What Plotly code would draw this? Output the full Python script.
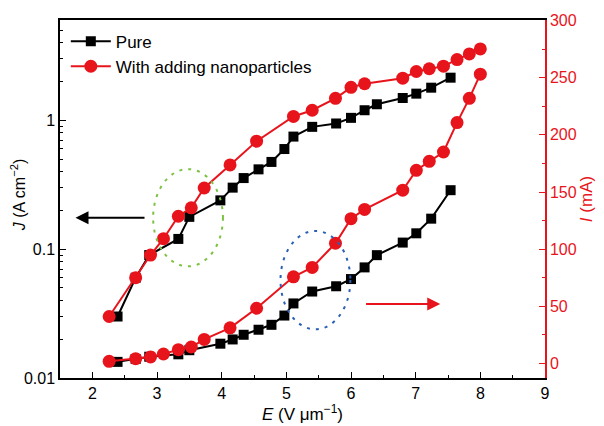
import plotly.graph_objects as go

# ---- data ----
pure_E = [2.39, 2.67, 2.88, 3.33, 3.50, 3.98, 4.17, 4.34, 4.57, 4.77, 4.97,
          5.11, 5.40, 5.77, 6.00, 6.21, 6.40, 6.80, 7.01, 7.24, 7.54]
pure_J = [0.030, 0.060, 0.090, 0.120, 0.178, 0.239, 0.300, 0.356, 0.416, 0.475, 0.598,
          0.747, 0.889, 0.944, 1.044, 1.196, 1.331, 1.489, 1.609, 1.79, 2.14]
pure_I = [1.5, 4.0, 6.0, 8.1, 11.7, 17.4, 21.1, 25.2, 29.6, 33.9, 42.0,
          52.6, 63.0, 67.6, 73.9, 84.1, 94.8, 105.8, 113.9, 126.7, 151.6]

nano_E = [2.26, 2.67, 2.90, 3.10, 3.33, 3.53, 3.73, 4.13, 4.54, 5.11, 5.40,
          5.76, 6.00, 6.21, 6.80, 7.01, 7.21, 7.43, 7.64, 7.83, 8.00]
nano_J = [0.030, 0.060, 0.090, 0.1205, 0.180, 0.209, 0.298, 0.450, 0.688, 1.07, 1.196,
          1.48, 1.80, 1.92, 2.12, 2.39, 2.51, 2.63, 2.96, 3.27, 3.58]
nano_I = [2.0, 4.3, 5.8, 8.4, 12.2, 14.5, 21.1, 31.3, 48.4, 75.9, 84.1,
          105.2, 126.7, 134.8, 151.6, 169.0, 176.8, 185.0, 210.7, 231.9, 253.0]

x_ticks = [2, 3, 4, 5, 6, 7, 8, 9]
j_ticks = [0.01, 0.1, 1]
j_ticktext = ["0.01", "0.1", "1"]
i_ticks = [0, 50, 100, 150, 200, 250, 300]

BLACK = "#000000"
RED = "#e8141c"
FONT = "Liberation Sans, Arial, sans-serif"

fig = go.Figure()

fig.add_trace(go.Scatter(x=pure_E, y=pure_J, mode="lines+markers", name="Pure",
                         line=dict(color=BLACK, width=2),
                         marker=dict(symbol="square", size=10, color=BLACK),
                         legendgroup="pure", showlegend=True, yaxis="y"))
fig.add_trace(go.Scatter(x=nano_E, y=nano_J, mode="lines+markers",
                         name="With adding nanoparticles",
                         line=dict(color=RED, width=2),
                         marker=dict(symbol="circle", size=13, color=RED),
                         legendgroup="nano", showlegend=True, yaxis="y"))
fig.add_trace(go.Scatter(x=pure_E, y=pure_I, mode="lines+markers", name="Pure",
                         line=dict(color=BLACK, width=2),
                         marker=dict(symbol="square", size=10, color=BLACK),
                         legendgroup="pure", showlegend=False, yaxis="y2"))
fig.add_trace(go.Scatter(x=nano_E, y=nano_I, mode="lines+markers",
                         name="With adding nanoparticles",
                         line=dict(color=RED, width=2),
                         marker=dict(symbol="circle", size=13, color=RED),
                         legendgroup="nano", showlegend=False, yaxis="y2"))

# dotted ellipses (placed on the linear right axis)
fig.add_shape(type="circle", xref="x", yref="y2", x0=2.94, x1=4.02, y0=85, y1=170,
              line=dict(color="#7cc242", width=2, dash="3px,6px"))
fig.add_shape(type="circle", xref="x", yref="y2", x0=4.91, x1=5.99, y0=30, y1=116,
              line=dict(color="#2b5fb4", width=2, dash="3px,6px"))

# arrows
fig.add_annotation(x=1.74, y=127.6, ax=2.83, ay=127.6, xref="x", yref="y2",
                   axref="x", ayref="y2", showarrow=True, arrowhead=2,
                   arrowsize=1.3, arrowwidth=2, arrowcolor=BLACK, text="")
fig.add_annotation(x=7.38, y=52.2, ax=6.21, ay=52.2, xref="x", yref="y2",
                   axref="x", ayref="y2", showarrow=True, arrowhead=2,
                   arrowsize=1.3, arrowwidth=2, arrowcolor=RED, text="")

# left axis title as a rotated annotation
fig.add_annotation(text="<i>J</i> (A cm<sup>−2</sup>)", xref="paper", yref="paper",
                   x=-0.085, y=0.51, xanchor="center", yanchor="middle",
                   textangle=-90, showarrow=False, font=dict(size=16, color=BLACK))

fig.update_layout(
    width=604, height=426,
    margin=dict(l=60, r=59, t=20, b=46),
    paper_bgcolor="white", plot_bgcolor="white",
    font=dict(family=FONT, size=16, color=BLACK),
    showlegend=True,
    legend=dict(x=0.012, y=0.99, xanchor="left", yanchor="top",
                bgcolor="rgba(0,0,0,0)", font=dict(size=17),
                itemwidth=40, tracegroupgap=0),
    xaxis=dict(range=[1.5, 9], tickvals=x_ticks, showgrid=False, zeroline=False,
               automargin=True,
               showline=True, linecolor=BLACK, linewidth=1.5, mirror=True,
               ticks="inside", ticklen=6, tickwidth=1.2, tickcolor=BLACK,
               tickfont=dict(size=16),
               minor=dict(dtick=0.5, ticks="inside", ticklen=3, tickcolor=BLACK),
               title=dict(text="<i>E</i> (V μm<sup>−1</sup>)", standoff=0,
                          font=dict(size=17))),
    yaxis=dict(type="log", range=[-2, 0.778], tickvals=j_ticks, ticktext=j_ticktext,
               automargin=False,
               showgrid=False, zeroline=False, showline=True, linecolor=BLACK,
               linewidth=1.5, ticks="inside", ticklen=6, tickwidth=1.2,
               tickcolor=BLACK, tickfont=dict(size=16),
               minor=dict(dtick="D1", ticks="inside", ticklen=3, tickcolor=BLACK)),
    yaxis2=dict(overlaying="y", side="right", range=[-12.6, 300.4],
                automargin=True,
                tickvals=i_ticks, showgrid=False, zeroline=False, showline=True,
                linecolor=RED, linewidth=1.5, ticks="inside", ticklen=6,
                tickwidth=1.2, tickcolor=RED, tickfont=dict(color=RED, size=16),
                minor=dict(dtick=25, ticks="inside", ticklen=3, tickcolor=RED),
                title=dict(text="<i>I</i> (mA)", standoff=2,
                           font=dict(color=RED, size=17))),
)

fig.write_html("out.html")
